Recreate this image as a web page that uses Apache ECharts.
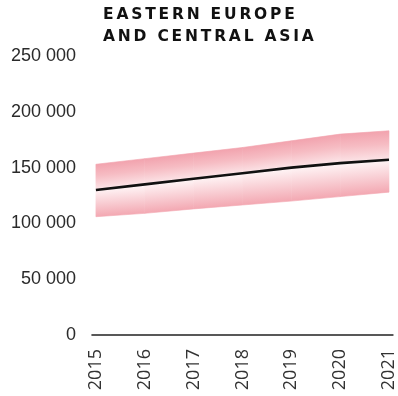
<!DOCTYPE html>
<html>
<head>
<meta charset="utf-8">
<script src="https://cdn.jsdelivr.net/npm/echarts@6/dist/echarts.min.js"></script>
<style>
html,body{margin:0;padding:0;background:#fff;}
#chart{width:398px;height:396px;}
</style>
</head>
<body>
<div id="chart"></div>
<script>
const TITLE_LINES = ['EASTERN EUROPE', 'AND CENTRAL ASIA'];
const years = [2015, 2016, 2017, 2018, 2019, 2020, 2021];
const central = [130000, 135000, 140000, 145000, 150000, 154000, 157000];
const upper = [153000, 158000, 163000, 168000, 174000, 180000, 183000];
const lower = [106000, 109000, 113000, 116500, 120000, 124000, 128000];
const yTicks = [0, 50000, 100000, 150000, 200000, 250000];

// letter spacing for the title lines only
(function () {
  const proto = CanvasRenderingContext2D.prototype;
  const orig = proto.fillText;
  proto.fillText = function (t, x, y, m) {
    if (TITLE_LINES.indexOf(t) >= 0 && 'letterSpacing' in this) {
      const prev = this.letterSpacing;
      this.letterSpacing = '2.8px';
      m === undefined ? orig.call(this, t, x, y) : orig.call(this, t, x, y, m);
      this.letterSpacing = prev;
    } else {
      m === undefined ? orig.call(this, t, x, y) : orig.call(this, t, x, y, m);
    }
  };
})();

const fmt = v => String(v).replace(/\B(?=(\d{3})+(?!\d))/g, ' ');

function edgeGradient(e0, e1, c0, c1, stops) {
  const mx = (e0[0] + e1[0]) / 2, my = (e0[1] + e1[1]) / 2;
  const dx = e1[0] - e0[0], dy = e1[1] - e0[1];
  const len = Math.hypot(dx, dy) || 1;
  let nx = -dy / len, ny = dx / len;
  const cx = (c0[0] + c1[0]) / 2, cy = (c0[1] + c1[1]) / 2;
  let dist = (cx - mx) * nx + (cy - my) * ny;
  if (dist < 0) { nx = -nx; ny = -ny; dist = -dist; }
  return new echarts.graphic.LinearGradient(mx, my, mx + nx * dist, my + ny * dist, stops, true);
}

const upperStops = [
  {offset: 0, color: '#f2a3ae'},
  {offset: 0.45, color: '#f6bcc3'},
  {offset: 1, color: '#fce5e8'}
];
const lowerStops = [
  {offset: 0, color: '#f3a8b2'},
  {offset: 0.45, color: '#f8cbd1'},
  {offset: 1, color: '#fff5f6'}
];

const segIdx = years.slice(0, -1).map((y, i) => [i]);

const chart = echarts.init(document.getElementById('chart'), null, {renderer: 'canvas'});
chart.setOption({
  animation: false,
  backgroundColor: '#fff',
  title: {
    text: TITLE_LINES.join('\n'),
    left: 103,
    top: 4,
    padding: 0,
    textStyle: {
      fontFamily: 'DejaVu Sans',
      fontWeight: 'bold',
      fontSize: 15.5,
      lineHeight: 22,
      color: '#111'
    }
  },
  grid: {left: 92, right: 3, top: 56, bottom: 61, containLabel: false},
  xAxis: {
    type: 'value',
    min: 2014.92,
    max: 2021.08,
    minInterval: 1,
    maxInterval: 1,
    offset: 6,
    axisLine: {show: true, lineStyle: {color: '#222', width: 1.6}},
    axisTick: {show: false},
    splitLine: {show: false},
    axisLabel: {
      rotate: 90,
      margin: 8,
      padding: [0, 0, 5, 0],
      fontFamily: 'Open Sans',
      fontSize: 18,
      color: '#333',
      showMinLabel: true,
      showMaxLabel: true,
      formatter: v => (Math.abs(v - Math.round(v)) < 1e-6 && years.indexOf(Math.round(v)) >= 0) ? String(Math.round(v)) : ''
    }
  },
  yAxis: {
    type: 'value',
    min: yTicks[0],
    max: yTicks[yTicks.length - 1],
    interval: yTicks[1] - yTicks[0],
    axisLine: {show: false},
    axisTick: {show: false},
    splitLine: {show: false},
    axisLabel: {
      margin: 16,
      fontFamily: 'Liberation Sans',
      fontSize: 18,
      color: '#2a2a2a',
      formatter: v => fmt(v)
    }
  },
  series: [
    {
      type: 'custom',
      data: segIdx,
      z: 1,
      silent: true,
      renderItem: function (params, api) {
        const i = api.value(0);
        const pt = (k, arr) => api.coord([years[k], arr[k]]);
        const u0 = pt(i, upper), u1 = pt(i + 1, upper);
        const m0 = pt(i, central), m1 = pt(i + 1, central);
        const l0 = pt(i, lower), l1 = pt(i + 1, lower);
        const gu = edgeGradient(u0, u1, m0, m1, upperStops);
        const gl = edgeGradient(l0, l1, m0, m1, lowerStops);
        return {
          type: 'group',
          children: [
            {type: 'polygon', shape: {points: [u0, u1, m1, m0]}, style: {fill: gu, stroke: gu, lineWidth: 0.6}},
            {type: 'polygon', shape: {points: [m0, m1, l1, l0]}, style: {fill: gl, stroke: gl, lineWidth: 0.6}}
          ]
        };
      }
    },
    {
      type: 'line',
      z: 3,
      data: years.map((y, i) => [y, central[i]]),
      symbol: 'none',
      lineStyle: {color: '#111', width: 2.6},
      silent: true
    }
  ]
});
</script>
</body>
</html>
